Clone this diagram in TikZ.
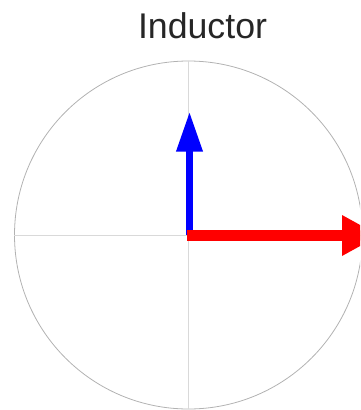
\documentclass[tikz,border=0pt]{standalone}
\usepackage{fontspec}
\setmainfont{Liberation Sans}
\usetikzlibrary{arrows.meta}
\begin{document}
\begin{tikzpicture}[x=1pt, y=-1pt, >=Triangle]
	\useasboundingbox (0,0) rectangle (360,410);
	\clip (0,0) rectangle (360,410);
	% tarcza wskazowa z osiami
	\coordinate (o) at (188.5,235);
	\node[circle, draw=gray!60, line width=0.8pt, minimum size=348pt, inner sep=0pt] (dial) at (o) {};
	\draw[gray!30, line width=0.8pt] (dial.north) -- (dial.south);
	\draw[gray!30, line width=0.8pt] (dial.west) -- (dial.east);
	\node[font=\fontsize{35.7}{40}\selectfont, anchor=base, text=black!85] (title) at (202.5,38) {Inductor};
	% wskazy: napięcie i prąd
	\coordinate (vtip) at (189.5,111.7);
	\coordinate (itip) at (380,235.5);
	\draw[blue, line width=7pt, -{Triangle[length=40pt,width=25pt]}] ([xshift=1pt]o) -- (vtip);
	\draw[red, line width=11pt, -{Triangle[length=38pt,width=38pt]}] ([xshift=-1.5pt,yshift=-0.5pt]o) -- (itip);
\end{tikzpicture}
\end{document}
